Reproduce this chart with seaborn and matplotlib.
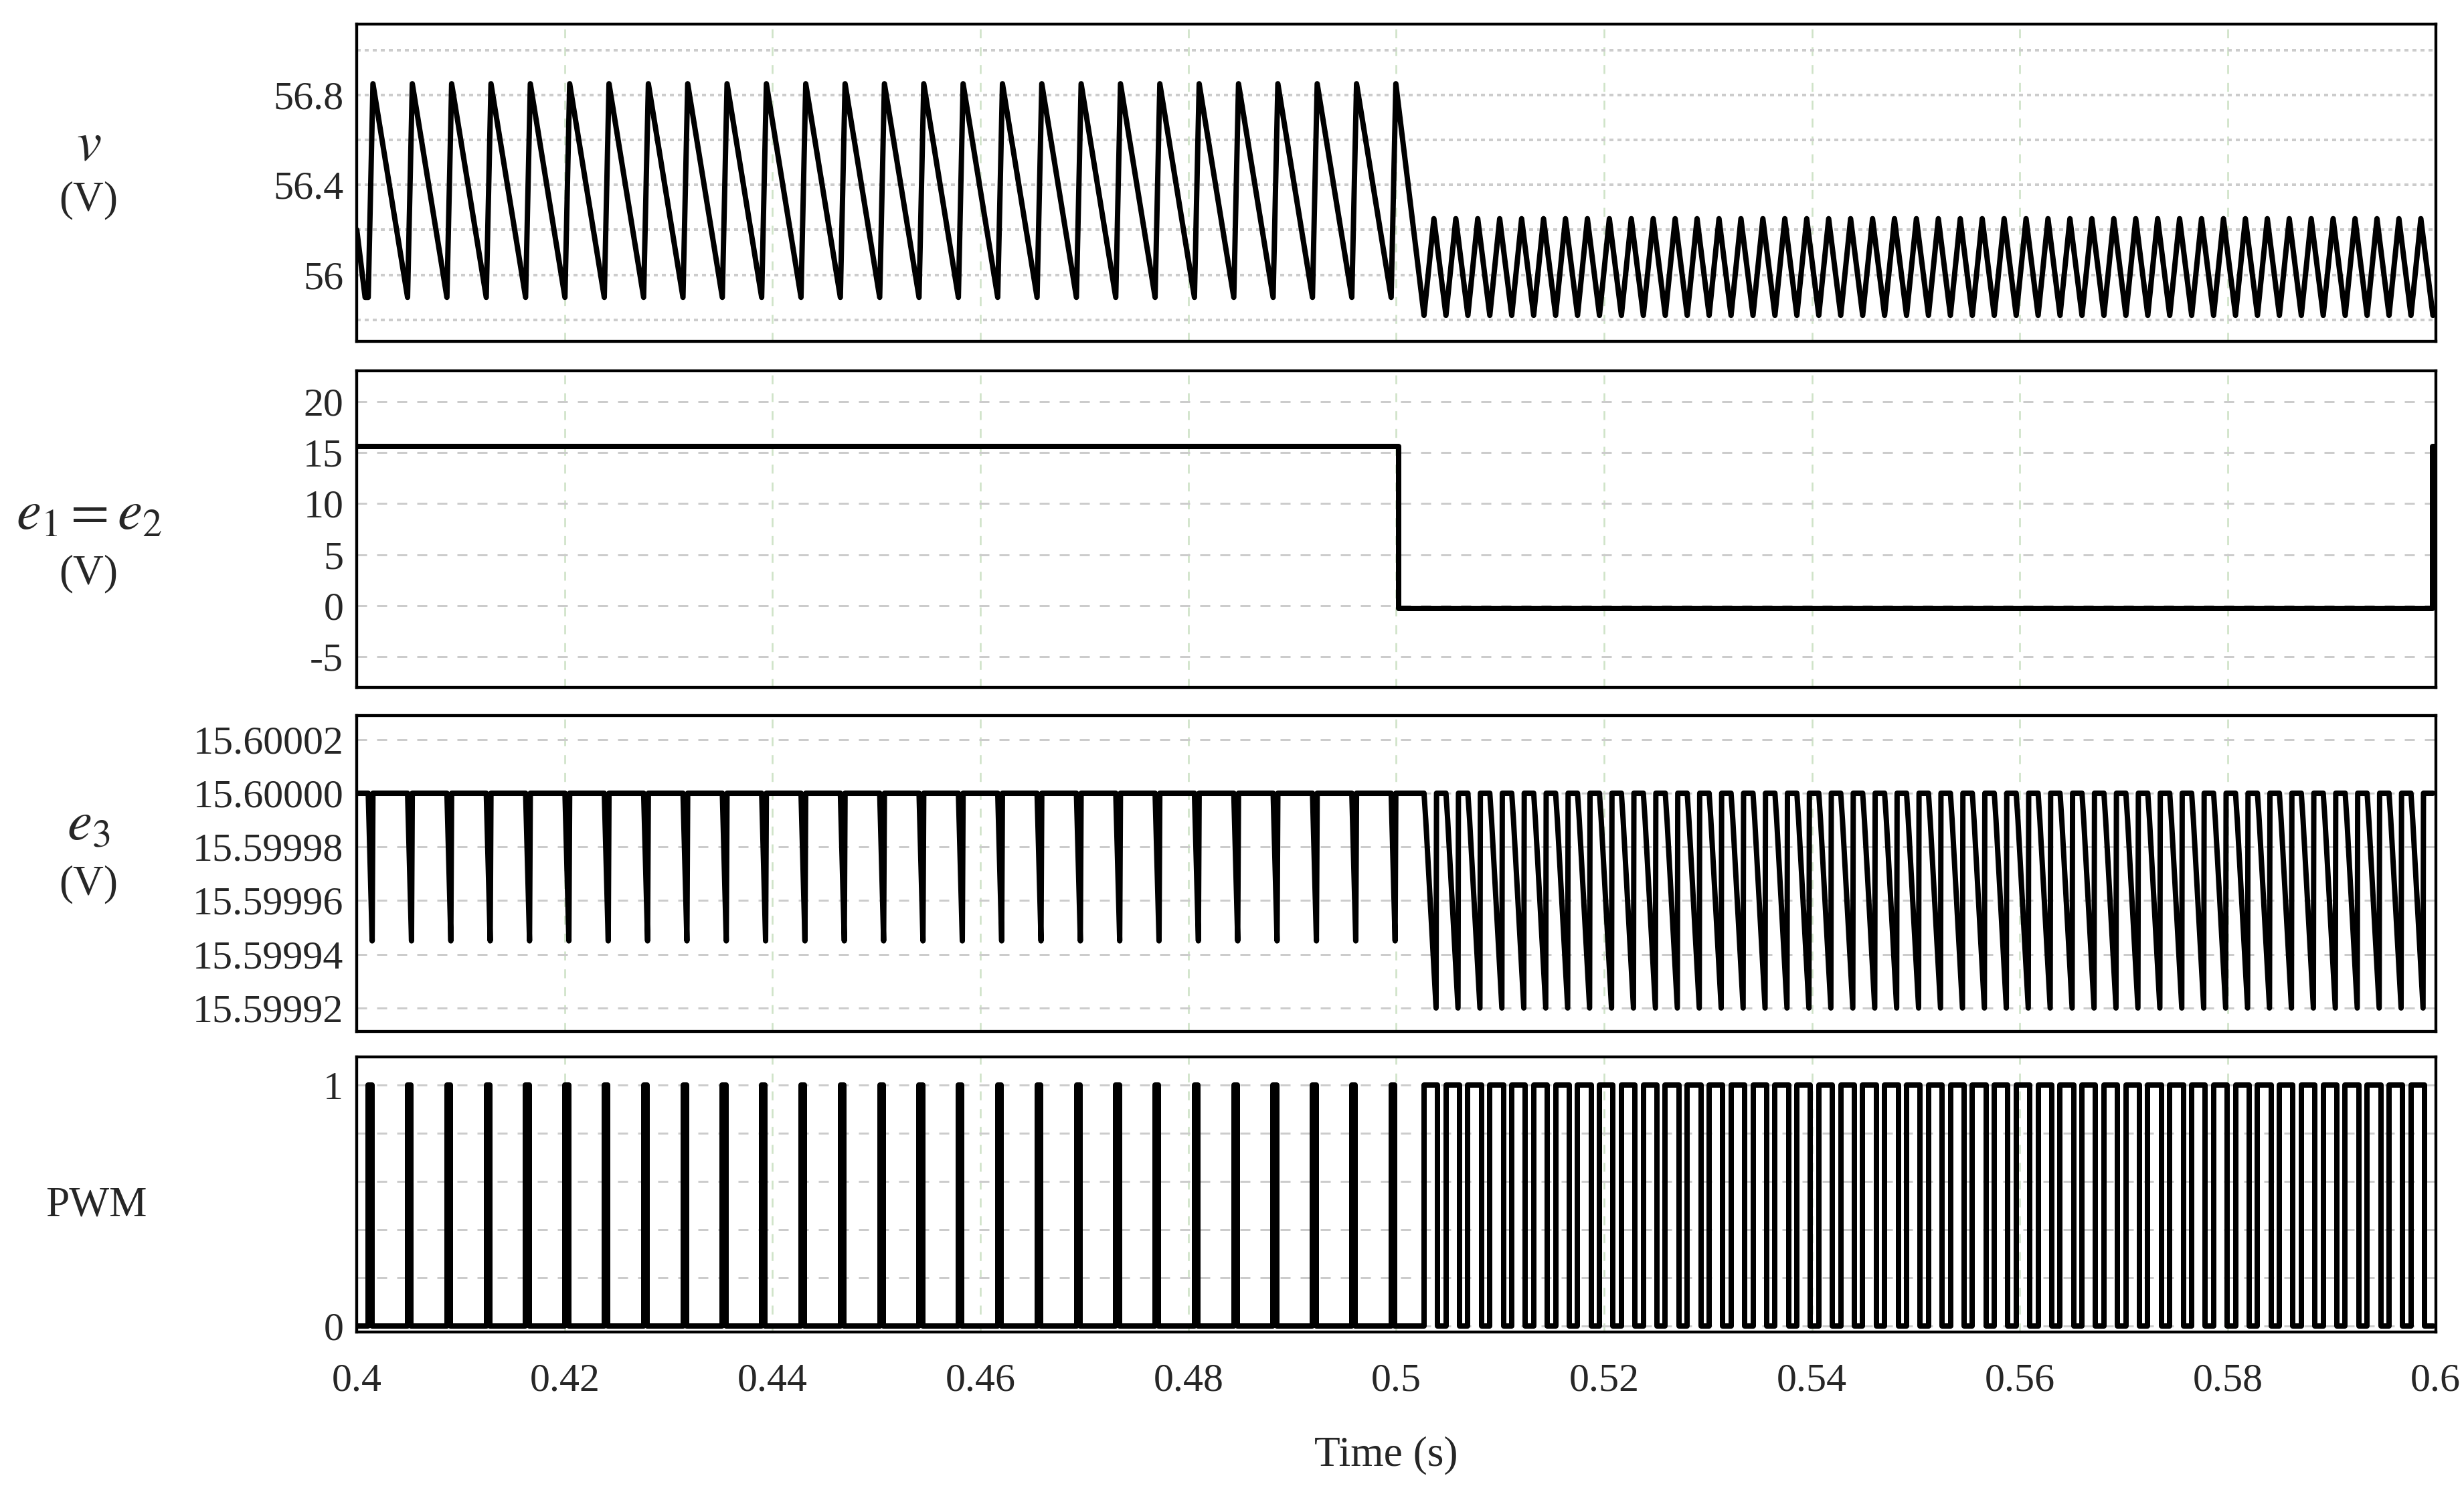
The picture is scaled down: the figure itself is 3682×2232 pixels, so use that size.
import numpy as np
import pandas as pd
import matplotlib
matplotlib.use("Agg")
import matplotlib.pyplot as plt
import seaborn as sns
from matplotlib.ticker import FixedLocator, FixedFormatter, MultipleLocator

sns.set_theme(style="white")
plt.rcParams['font.family'] = ['Liberation Serif', 'DejaVu Serif']
plt.rcParams['mathtext.fontset'] = 'stix'

# ---- data ----
t_start, t_switch, t_end = 0.4, 0.5, 0.6
pre_first_pulse = 0.4011      # s
pre_period = 0.003785         # s
pre_count = 26
last_pre_pulse = 0.49951
post_first_pulse = 0.50267
post_period = 0.00211
post_count = 46

v_pre_phase = [0.0, 0.12, 1.0]
v_pre_vals = [55.90, 56.85, 55.90]
v_post_phase = [0.0, 0.45, 1.0]
v_post_vals = [55.82, 56.25, 55.82]
v_head = ([0.4, 0.4008], [56.20, 55.90])
v_trans = ([0.49951, 0.49996, 0.50267], [55.90, 56.85, 55.82])

e3_pre_phase = [0.0, 0.10, 0.12, 1.0]
e3_pre_vals = [15.60000, 15.599945, 15.60000, 15.60000]
e3_post_phase = [0.0, 0.08, 0.55, 0.57, 1.0]
e3_post_vals = [15.60000, 15.59999, 15.59992, 15.60000, 15.60000]
e3_trans = ([0.49951, 0.49989, 0.49996, 0.50267],
            [15.60000, 15.599945, 15.60000, 15.60000])

pwm_pre_phase = [0.0, 0.0, 0.09, 0.09, 1.0]
pwm_pre_vals = [0, 1, 1, 0, 0]
pwm_post_phase = [0.0, 0.0, 0.62, 0.62, 1.0]
pwm_post_vals = [0, 1, 1, 0, 0]
pwm_trans = ([0.49951, 0.49951, 0.49985, 0.49985, 0.50267], [0, 1, 1, 0, 0])

e12_t = [0.4, 0.5002, 0.5002, 0.5997, 0.5997, 0.6]
e12_v = [15.6, 15.6, -0.3, -0.3, 15.6, 15.6]


def tile(first, period, count, phase, vals):
    ts, vs = [], []
    for k in range(count):
        t0 = first + k * period
        ts += [t0 + p * period for p in phase]
        vs += list(vals)
    return ts, vs


def build(head, pre, trans, post):
    t = list(head[0]); v = list(head[1])
    a = tile(pre_first_pulse, pre_period, pre_count, *pre)
    t += a[0]; v += a[1]
    t += trans[0]; v += trans[1]
    b = tile(post_first_pulse, post_period, post_count, *post)
    t += b[0]; v += b[1]
    return np.array(t), np.array(v)


v_t, v_v = build(v_head, (v_pre_phase, v_pre_vals), v_trans, (v_post_phase, v_post_vals))
e3_t, e3_v = build(([0.4, 0.4011], [15.6, 15.6]), (e3_pre_phase, e3_pre_vals),
                   e3_trans, (e3_post_phase, e3_post_vals))
p_t, p_v = build(([0.4, 0.4011], [0, 0]), (pwm_pre_phase, pwm_pre_vals),
                 pwm_trans, (pwm_post_phase, pwm_post_vals))

fig = plt.figure(figsize=(15.342, 9.3), dpi=240)
L, W = 0.1448, 0.8437
boxes = [(0.7716, 0.2124), (0.540, 0.2116), (0.3095, 0.2115), (0.1084, 0.1842)]
axes = [fig.add_axes([L, b, W, h]) for b, h in boxes]

series = [(v_t, v_v), (np.array(e12_t), np.array(e12_v)), (e3_t, e3_v), (p_t, p_v)]
for ax, (t, y) in zip(axes, series):
    df = pd.DataFrame({"t": t, "y": y})
    sns.lineplot(data=df, x="t", y="y", ax=ax, color="black", lw=2.4,
                 sort=False, estimator=None)
    ax.set_xlim(t_start, t_end)
    ax.set_xlabel(""); ax.set_ylabel("")
    for s in ax.spines.values():
        s.set_color("black"); s.set_linewidth(1.3)
    ax.xaxis.set_major_locator(MultipleLocator(0.02))
    ax.grid(True, axis="x", color="#cfe3c8", ls=(0, (5, 5)), lw=0.8)
    ax.tick_params(axis="both", labelsize=18, length=0, pad=6)

ax = axes[0]
ax.set_ylim(55.705, 57.116)
ax.yaxis.set_major_locator(FixedLocator([56.0, 56.4, 56.8]))
ax.yaxis.set_major_formatter(FixedFormatter(["56", "56.4", "56.8"]))
ax.yaxis.set_minor_locator(FixedLocator([55.8, 56.2, 56.6, 57.0]))
ax.grid(True, axis="y", which="both", color="#cccccc", ls=(0, (1.5, 1.5)), lw=1.2)
ax = axes[1]
ax.set_ylim(-8, 23)
ax.yaxis.set_major_locator(FixedLocator([-5, 0, 5, 10, 15, 20]))
ax.yaxis.set_major_formatter(FixedFormatter(["-5", "0", "5", "10", "15", "20"]))
ax.grid(True, axis="y", color="#cccccc", ls=(0, (5, 5)), lw=0.9)
ax = axes[2]
ax.set_ylim(15.5999112, 15.6000289)
e3_ticks = [15.59992, 15.59994, 15.59996, 15.59998, 15.60000, 15.60002]
ax.yaxis.set_major_locator(FixedLocator(e3_ticks))
ax.yaxis.set_major_formatter(FixedFormatter([f"{x:.5f}" for x in e3_ticks]))
ax.grid(True, axis="y", color="#cccccc", ls=(0, (5, 5)), lw=0.9)
ax = axes[3]
ax.set_ylim(-0.026, 1.118)
ax.yaxis.set_major_locator(FixedLocator([0, 1]))
ax.yaxis.set_major_formatter(FixedFormatter(["0", "1"]))
ax.yaxis.set_minor_locator(FixedLocator([0.2, 0.4, 0.6, 0.8]))
ax.grid(True, axis="y", which="both", color="#cccccc", ls=(0, (5, 5)), lw=0.9)

for ax in axes[:3]:
    ax.tick_params(axis="x", labelbottom=False)
xt = [0.4, 0.42, 0.44, 0.46, 0.48, 0.5, 0.52, 0.54, 0.56, 0.58, 0.6]
axes[3].xaxis.set_major_locator(FixedLocator(xt))
axes[3].xaxis.set_major_formatter(FixedFormatter([f"{x:g}" for x in xt]))
axes[3].tick_params(axis="x", pad=14)
fig.text(0.5625, 0.026, "Time (s)", ha="center", va="center", fontsize=19)

labx = 0.036
fig.text(labx, 0.902, "$v$", ha="center", va="center", fontsize=25)
fig.text(labx, 0.866, "(V)", ha="center", va="center", fontsize=19)
fig.text(labx, 0.655, "$e_1 = e_2$", ha="center", va="center", fontsize=25)
fig.text(labx, 0.616, "(V)", ha="center", va="center", fontsize=19)
fig.text(labx, 0.447, "$e_3$", ha="center", va="center", fontsize=25)
fig.text(labx, 0.408, "(V)", ha="center", va="center", fontsize=19)
fig.text(0.039, 0.193, "PWM", ha="center", va="center", fontsize=19)

fig.savefig("out.png", dpi=240, facecolor="white")
